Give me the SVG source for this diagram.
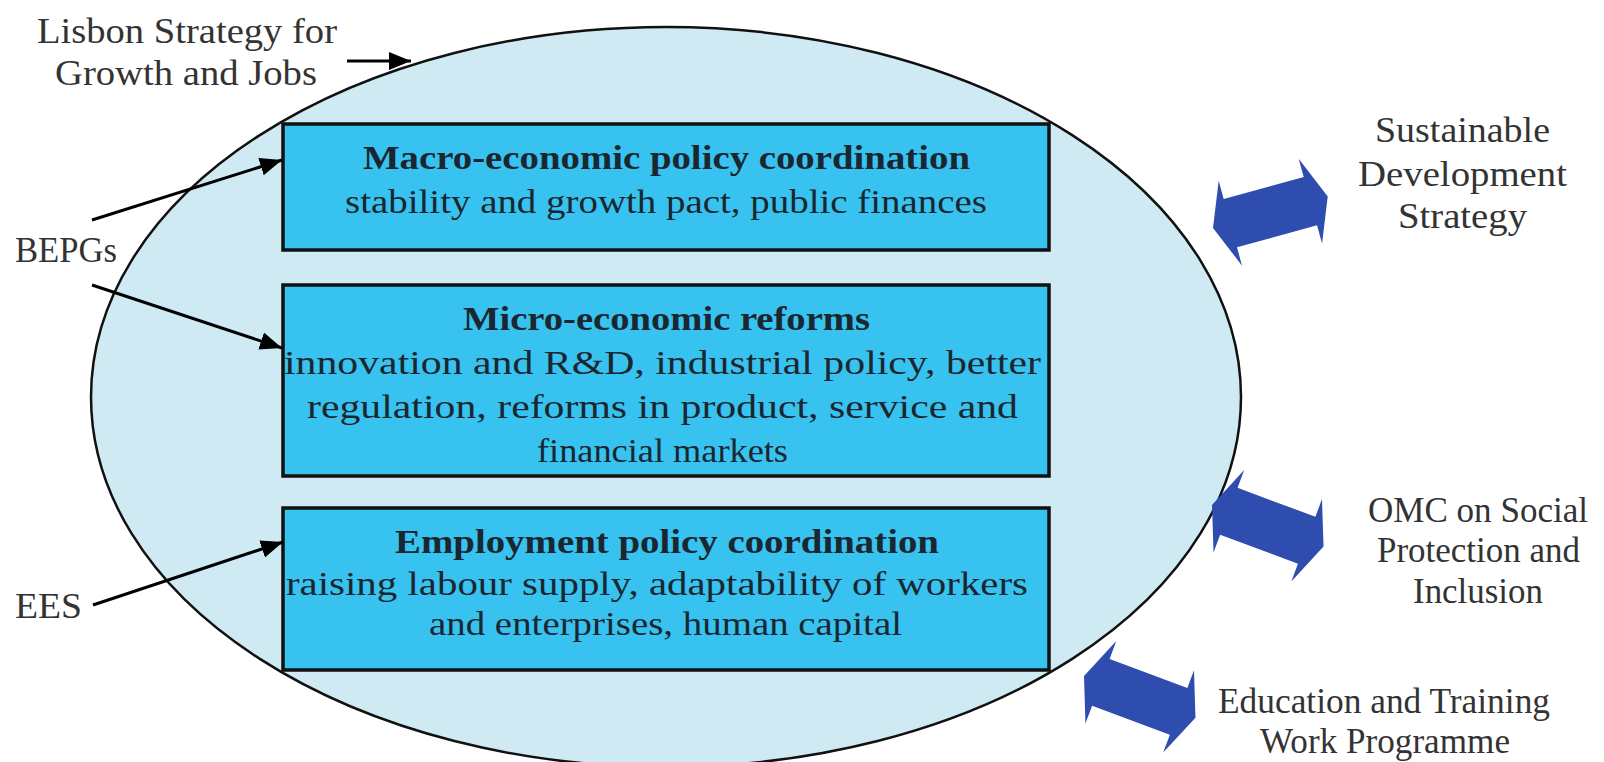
<svg xmlns="http://www.w3.org/2000/svg" xmlns:xlink="http://www.w3.org/1999/xlink" width="1604" height="762" viewBox="0 0 1604 762">
<style>
.lbl{font-family:"Liberation Serif","Times New Roman",serif;font-size:35px;fill:#333;}
.bt{font-family:"Liberation Serif","Times New Roman",serif;font-size:33px;fill:#1b2730;}
.bb{font-weight:bold;}
.box{fill:#38C2EF;stroke:#111;stroke-width:3.5;}
.conn{stroke:#000;stroke-width:3;fill:none;}
.dbl{fill:#2F4DAE;}
</style>
<defs>
<marker id="ah" markerUnits="userSpaceOnUse" markerWidth="24" markerHeight="20" refX="22" refY="9" orient="auto">
<path d="M0,0 L22,9 L0,18 Z" fill="#000"/>
</marker>
<polygon id="dblArrow" points="0,0 18,-44 18,-25 101,-25 101,-44 119,0 101,44 101,25 18,25 18,44"/>
</defs>
<rect width="1604" height="762" fill="#fff"/>
<g id="lisbon">
<ellipse cx="666" cy="397" rx="575" ry="370" fill="#CFEAF3" stroke="#111" stroke-width="2.5"/>
<text class="lbl" x="37" y="43" textLength="300" lengthAdjust="spacingAndGlyphs">Lisbon Strategy for</text>
<text class="lbl" x="55" y="85" textLength="262" lengthAdjust="spacingAndGlyphs">Growth and Jobs</text>
</g>
<g id="macro">
<rect class="box" x="283" y="124" width="766" height="126"/>
<text class="bt bb" x="363" y="169" textLength="607" lengthAdjust="spacingAndGlyphs">Macro-economic policy coordination</text>
<text class="bt" x="345" y="213" textLength="642" lengthAdjust="spacingAndGlyphs">stability and growth pact, public finances</text>
</g>
<g id="micro">
<rect class="box" x="283" y="285" width="766" height="191"/>
<text class="bt bb" x="463" y="330" textLength="407" lengthAdjust="spacingAndGlyphs">Micro-economic reforms</text>
<text class="bt" x="284" y="374" textLength="757" lengthAdjust="spacingAndGlyphs">innovation and R&amp;D, industrial policy, better</text>
<text class="bt" x="307" y="418" textLength="711" lengthAdjust="spacingAndGlyphs">regulation, reforms in product, service and</text>
<text class="bt" x="537" y="462" textLength="251" lengthAdjust="spacingAndGlyphs">financial markets</text>
</g>
<g id="employment">
<rect class="box" x="283" y="508" width="766" height="162"/>
<text class="bt bb" x="395" y="553" textLength="544" lengthAdjust="spacingAndGlyphs">Employment policy coordination</text>
<text class="bt" x="286" y="595" textLength="742" lengthAdjust="spacingAndGlyphs">raising labour supply, adaptability of workers</text>
<text class="bt" x="429" y="635" textLength="473" lengthAdjust="spacingAndGlyphs">and enterprises, human capital</text>
</g>
<g id="bepgs">
<text class="lbl" x="15" y="262" textLength="102" lengthAdjust="spacingAndGlyphs">BEPGs</text>
</g>
<g id="ees">
<text class="lbl" x="15" y="618" textLength="67" lengthAdjust="spacingAndGlyphs">EES</text>
</g>
<g id="sds">
<text class="lbl" x="1375" y="142" textLength="175" lengthAdjust="spacingAndGlyphs">Sustainable</text>
<text class="lbl" x="1358" y="186" textLength="209" lengthAdjust="spacingAndGlyphs">Development</text>
<text class="lbl" x="1398" y="228" textLength="129" lengthAdjust="spacingAndGlyphs">Strategy</text>
</g>
<g id="omc">
<text class="lbl" x="1368" y="522" textLength="220" lengthAdjust="spacingAndGlyphs">OMC on Social</text>
<text class="lbl" x="1377" y="562" textLength="203" lengthAdjust="spacingAndGlyphs">Protection and</text>
<text class="lbl" x="1413" y="603" textLength="130" lengthAdjust="spacingAndGlyphs">Inclusion</text>
</g>
<g id="edu">
<text class="lbl" x="1218" y="713" textLength="332" lengthAdjust="spacingAndGlyphs">Education and Training</text>
<text class="lbl" x="1260" y="753" textLength="250" lengthAdjust="spacingAndGlyphs">Work Programme</text>
</g>
<g id="connectors">
<line class="conn" x1="347" y1="61" x2="411" y2="61" marker-end="url(#ah)"/>
<line class="conn" x1="92" y1="220" x2="282" y2="160" marker-end="url(#ah)"/>
<line class="conn" x1="92" y1="285" x2="282" y2="348" marker-end="url(#ah)"/>
<line class="conn" x1="93" y1="605" x2="283" y2="542" marker-end="url(#ah)"/>
<use xlink:href="#dblArrow" class="dbl" transform="translate(1213,228) rotate(-15.4)"/>
<use xlink:href="#dblArrow" class="dbl" transform="translate(1212,505) rotate(20.4)"/>
<use xlink:href="#dblArrow" class="dbl" transform="translate(1084,676) rotate(20.5)"/>
</g>
</svg>
